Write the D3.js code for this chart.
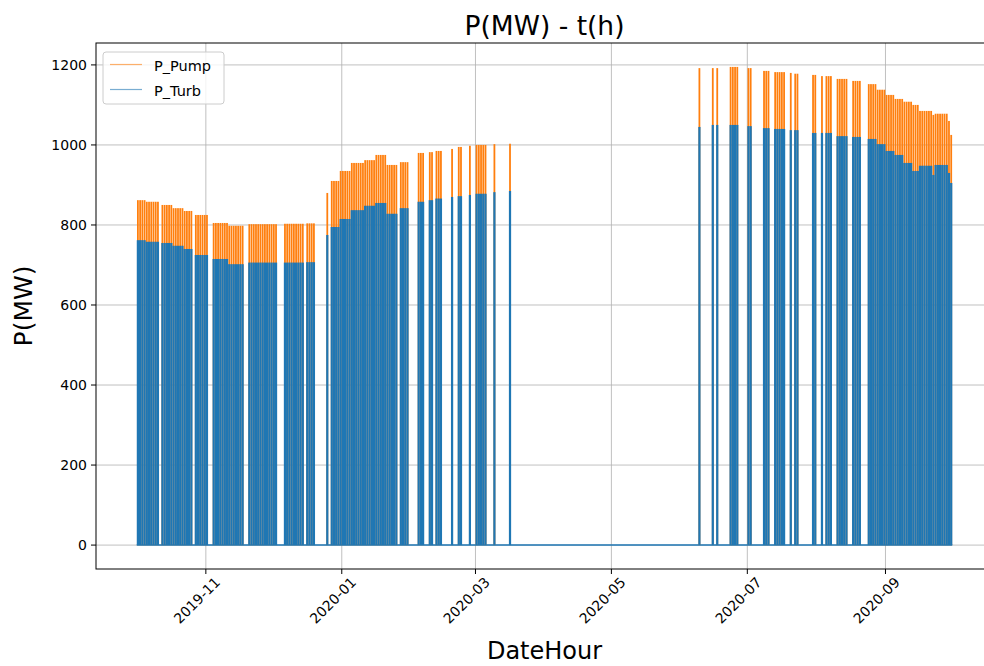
<!DOCTYPE html>
<html><head><meta charset="utf-8">
<script src="https://cdn.jsdelivr.net/npm/d3@7"></script>
<style>body{margin:0;background:#fff;overflow:hidden}svg{display:block}</style>
</head><body><svg id="chart" width="984" height="666"></svg>
<script>
// ---- data: operating runs (consecutive days with the same daily peak) ----
const runStart = [
  "2019-10-01","2019-10-05","2019-10-12","2019-10-17","2019-10-22","2019-10-27",
  "2019-11-04","2019-11-11","2019-11-20","2019-12-06","2019-12-16","2019-12-25",
  "2019-12-27","2019-12-31","2020-01-05","2020-01-11","2020-01-16","2020-01-21","2020-01-27",
  "2020-02-04","2020-02-09","2020-02-12","2020-02-19","2020-02-22","2020-02-27","2020-03-01",
  "2020-03-09","2020-03-16",
  "2020-06-09","2020-06-15","2020-06-17","2020-06-23","2020-07-01","2020-07-08","2020-07-13",
  "2020-07-20","2020-07-22","2020-07-30","2020-08-03","2020-08-05","2020-08-10","2020-08-17",
  "2020-08-24","2020-08-28","2020-09-01","2020-09-05","2020-09-09","2020-09-13","2020-09-16",
  "2020-09-22","2020-09-23","2020-09-29","2020-09-30"
];
const runDays = [
  4,6,5,5,4,6,
  7,7,13,9,4,1,
  4,5,6,5,5,5,4,
  3,2,3,1,2,1,5,
  1,1,
  1,1,1,4,2,3,5,
  1,2,2,1,3,5,4,
  4,4,4,4,4,3,6,
  1,6,1,1
];
const pumpMW = [
  862,858,850,842,835,825,
  805,798,802,803,804,880,
  910,935,955,962,975,950,957,
  980,982,985,990,995,998,1000,
  1002,1003,
  1192,1192,1192,1195,1192,1185,1182,
  1180,1178,1175,1172,1172,1165,1160,
  1152,1138,1125,1115,1108,1100,1085,
  1075,1078,1060,1025
];
const turbMW = [
  762,758,755,748,740,725,
  715,702,706,706,707,775,
  795,815,837,848,855,828,842,
  858,862,866,870,872,875,878,
  882,885,
  1045,1050,1050,1050,1047,1042,1040,
  1037,1037,1030,1030,1030,1022,1020,
  1015,1002,985,975,955,935,948,
  925,950,930,905
];
const seriesStart = "2019-10-01T00:00";
const seriesEnd   = "2020-09-30T23:00";
const yTicks = [0,200,400,600,800,1000,1200];
const xTickLabels = ["2019-11","2020-01","2020-03","2020-05","2020-07","2020-09"];
const seriesNames = ["P_Pump","P_Turb"];
const seriesColors = ["#ff7f0e","#1f77b4"];

// ---- expand runs into daily records ----
const parseDay = d3.timeParse("%Y-%m-%d");
const parseHour = d3.timeParse("%Y-%m-%dT%H:%M");
const days = [];
runStart.forEach((s,i)=>{
  const d0 = parseDay(s);
  for(let k=0;k<runDays[i];k++){
    days.push({date:d3.timeDay.offset(d0,k), pump:pumpMW[i], turb:turbMW[i]});
  }
});

const t0 = parseHour(seriesStart), t1 = parseHour(seriesEnd);
const span = t1 - t0, mX = span*0.05;
const maxV = d3.max(days, d=>Math.max(d.pump,d.turb)), mY = maxV*0.05;

const L=96, R=993, T=43, B=569;
const x = d3.scaleTime().domain([new Date(+t0-mX), new Date(+t1+mX)]).range([L,R]);
const y = d3.scaleLinear().domain([-mY, maxV+mY]).range([B,T]);

const svg = d3.select("#chart");
const font = "DejaVu Sans, sans-serif";

// grid
const parseMonth = d3.timeParse("%Y-%m");
const xTickDates = xTickLabels.map(parseMonth);
const grid = svg.append("g").attr("stroke","#b0b0b0").attr("stroke-width",0.8);
grid.selectAll("line.v").data(xTickDates).join("line").attr("class","v")
  .attr("x1",d=>x(d)).attr("x2",d=>x(d)).attr("y1",T).attr("y2",B);
grid.selectAll("line.h").data(yTicks).join("line").attr("class","h")
  .attr("x1",L).attr("x2",R).attr("y1",d=>y(d)).attr("y2",d=>y(d));

// data
const dayW = d=>x(d3.timeDay.offset(d.date,1))-x(d.date);
const plot = svg.append("g");
plot.append("line").attr("x1",x(t0)).attr("x2",x(t1)).attr("y1",y(0)).attr("y2",y(0))
  .attr("stroke",seriesColors[1]).attr("stroke-width",1.5);
plot.selectAll("rect.p").data(days).join("rect").attr("class","p")
  .attr("x",d=>x(d.date)+dayW(d)*0.1).attr("width",d=>dayW(d)*0.8)
  .attr("y",d=>y(d.pump)).attr("height",d=>y(0)-y(d.pump))
  .attr("fill",seriesColors[0]);
plot.selectAll("rect.t").data(days).join("rect").attr("class","t")
  .attr("x",d=>x(d.date)).attr("width",dayW)
  .attr("y",d=>y(d.turb)).attr("height",d=>y(0)-y(d.turb))
  .attr("fill",seriesColors[1]);

// spines
const sp = svg.append("g").attr("stroke","#000").attr("stroke-width",1).attr("fill","none");
sp.append("rect").attr("x",L).attr("y",T).attr("width",R-L).attr("height",B-T);

// y axis
const yAx = svg.append("g");
yAx.selectAll("line").data(yTicks).join("line")
  .attr("x1",L-5).attr("x2",L).attr("y1",d=>y(d)).attr("y2",d=>y(d)).attr("stroke","#000");
yAx.selectAll("text").data(yTicks).join("text")
  .attr("x",L-9).attr("y",d=>y(d)).attr("dy","0.36em").attr("text-anchor","end")
  .attr("font-family",font).attr("font-size",14).text(d=>d);

// x axis
const xAx = svg.append("g");
xAx.selectAll("line").data(xTickDates).join("line")
  .attr("x1",d=>x(d)).attr("x2",d=>x(d)).attr("y1",B).attr("y2",B+5).attr("stroke","#000");
xAx.selectAll("text").data(xTickLabels).join("text")
  .attr("font-family",font).attr("font-size",14).attr("text-anchor","middle")
  .attr("dominant-baseline","central").text(d=>d)
  .each(function(d,i){
    const w = this.getComputedTextLength(), h = 16;
    const half = (w+h)*Math.SQRT1_2/2;
    const cx = x(xTickDates[i]) - 9, cy = B+5+half;
    d3.select(this).attr("transform",`translate(${cx},${cy}) rotate(-45)`);
  });

// titles
svg.append("text").attr("x",(L+R)/2).attr("y",35).attr("text-anchor","middle")
  .attr("font-family",font).attr("font-size",26.5).text("P(MW) - t(h)");
svg.append("text").attr("transform",`translate(32,${(T+B)/2}) rotate(-90)`).attr("text-anchor","middle")
  .attr("font-family",font).attr("font-size",25).text("P(MW)");
svg.append("text").attr("x",(L+R)/2).attr("y",659).attr("text-anchor","middle")
  .attr("font-family",font).attr("font-size",24).text("DateHour");

// legend
const lg = svg.append("g");
lg.append("rect").attr("x",103).attr("y",52).attr("width",121).attr("height",52).attr("rx",3)
  .attr("fill","#fff").attr("fill-opacity",0.8).attr("stroke","#cccccc");
seriesNames.forEach((n,i)=>{
  const yy = 64.5 + i*25;
  lg.append("line").attr("x1",110).attr("x2",142).attr("y1",yy).attr("y2",yy)
    .attr("stroke",seriesColors[i]).attr("stroke-width",1.2).attr("stroke-opacity",0.6);
  lg.append("text").attr("x",154).attr("y",yy+6).attr("font-family",font).attr("font-size",14.5).text(n);
});
</script></body></html>
